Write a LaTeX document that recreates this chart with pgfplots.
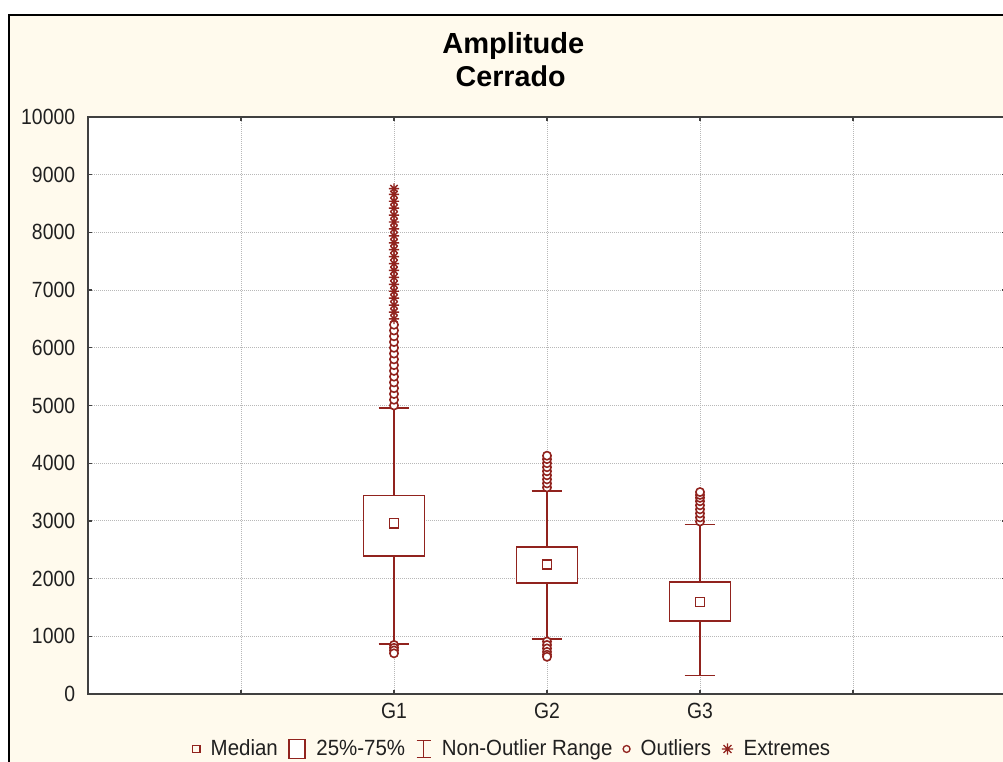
\documentclass[border=0pt]{standalone}
\usepackage{pgfplots}
\pgfplotsset{compat=1.18}
\usepackage{fontspec}
\setmainfont{Liberation Sans}
\newfontfamily\narrowfont{Liberation Sans}[FakeStretch=0.88]
\newfontfamily\legfont{Liberation Sans}[FakeStretch=0.93]
\definecolor{bx}{RGB}{145,35,30}
\definecolor{cream}{RGB}{255,250,237}
\definecolor{axg}{RGB}{64,64,64}
\definecolor{txt}{RGB}{32,32,32}
\pgfdeclareplotmark{ext}{%
 \pgfpathmoveto{\pgfqpoint{-\pgfplotmarksize}{0pt}}\pgfpathlineto{\pgfqpoint{\pgfplotmarksize}{0pt}}%
 \pgfpathmoveto{\pgfqpoint{0pt}{-\pgfplotmarksize}}\pgfpathlineto{\pgfqpoint{0pt}{\pgfplotmarksize}}%
 \pgfpathmoveto{\pgfqpoint{-0.707\pgfplotmarksize}{-0.707\pgfplotmarksize}}\pgfpathlineto{\pgfqpoint{0.707\pgfplotmarksize}{0.707\pgfplotmarksize}}%
 \pgfpathmoveto{\pgfqpoint{-0.707\pgfplotmarksize}{0.707\pgfplotmarksize}}\pgfpathlineto{\pgfqpoint{0.707\pgfplotmarksize}{-0.707\pgfplotmarksize}}%
 \pgfusepathqstroke}
\begin{document}
\begin{tikzpicture}
\useasboundingbox (0pt,0pt) rectangle (752.25pt,-571.5pt);
\fill[white] (0pt,0pt) rectangle (752.25pt,-571.5pt);
\draw[black, line width=1.3pt, fill=cream] (6.75pt,-11.25pt) rectangle (770pt,-590pt);
\begin{axis}[
  at={(66pt,-520.5pt)}, anchor=south west,
  scale only axis, width=688.5pt, height=432.75pt,
  xmin=0, xmax=6, ymin=0, ymax=10000,
  axis background/.style={fill=white},
  axis line style={draw=axg, line width=1pt},
  tick style={draw=axg, line width=1pt},
  major tick length=3pt, tick align=inside,
  xtick={1,2,3,4,5}, xticklabels={{},G1,G2,G3,{}},
  ytick={0,1000,...,10000},
  scaled y ticks=false,
  grid=major,
  major grid style={draw=black!28, line width=0.75pt, dash pattern=on 0.75pt off 0.75pt},
  ticklabel style={font=\narrowfont\fontsize{16.5}{19}\selectfont, text=txt},
  yticklabel style={inner sep=0pt, xshift=-9.5pt},
  xticklabel style={inner sep=0pt, yshift=-7pt},
  /pgf/number format/assume math mode=true,
  /pgf/number format/1000 sep={},
  legend columns=5,
  legend style={draw=none, fill=none, at={(0.467,-0.0953)}, anchor=center,
    font=\legfont\fontsize{16.5}{19}\selectfont, text=txt,
    nodes={inner xsep=8pt, inner ysep=1pt}},
]
% ---- G1 (x=2)
\addplot[forget plot, bx, line width=1.25pt] coordinates {(2,870) (2,2390)};
\addplot[forget plot, bx, line width=1.25pt] coordinates {(2,3440) (2,4960)};
\addplot[forget plot, bx, line width=1.25pt] coordinates {(1.9,870) (2.1,870)};
\addplot[forget plot, bx, line width=1.25pt] coordinates {(1.9,4960) (2.1,4960)};
\addplot[forget plot, bx, line width=1.25pt, fill=white] coordinates {(1.8,2390) (2.2,2390) (2.2,3440) (1.8,3440)} -- cycle;
\addplot[forget plot, only marks, bx, mark=square, mark size=3.4pt, line width=1.2pt] coordinates {(2,2960)};
\addplot[forget plot, only marks, bx, mark=*, mark size=3.1pt, line width=1.2pt, mark options={fill=white}] coordinates {
(2,850) (2,800) (2,755) (2,705)
(2,5000) (2,5100) (2,5200) (2,5300) (2,5400) (2,5500) (2,5600) (2,5700) (2,5800)
(2,5900) (2,6000) (2,6100) (2,6200) (2,6300) (2,6400)};
\addplot[forget plot, only marks, bx, mark=ext, mark size=3.8pt, line width=1.1pt] coordinates {
(2,6500) (2,6620) (2,6740) (2,6860) (2,6980) (2,7100) (2,7220) (2,7340) (2,7460) (2,7580)
(2,7700) (2,7820) (2,7940) (2,8060) (2,8180) (2,8300) (2,8420) (2,8540) (2,8660) (2,8760)};
% ---- G2 (x=3)
\addplot[forget plot, bx, line width=1.25pt] coordinates {(3,950) (3,1920)};
\addplot[forget plot, bx, line width=1.25pt] coordinates {(3,2550) (3,3520)};
\addplot[forget plot, bx, line width=1.25pt] coordinates {(2.9,950) (3.1,950)};
\addplot[forget plot, bx, line width=1.25pt] coordinates {(2.9,3520) (3.1,3520)};
\addplot[forget plot, bx, line width=1.25pt, fill=white] coordinates {(2.8,1920) (3.2,1920) (3.2,2550) (2.8,2550)} -- cycle;
\addplot[forget plot, only marks, bx, mark=square, mark size=3.4pt, line width=1.2pt] coordinates {(3,2240)};
\addplot[forget plot, only marks, bx, mark=*, mark size=3.1pt, line width=1.2pt, mark options={fill=white}] coordinates {
(3,910) (3,850) (3,790) (3,730) (3,680) (3,645)
(3,3580) (3,3650) (3,3720) (3,3790) (3,3860) (3,3930) (3,4000) (3,4070) (3,4130)};
% ---- G3 (x=4)
\addplot[forget plot, bx, line width=1.25pt] coordinates {(4,320) (4,1265)};
\addplot[forget plot, bx, line width=1.25pt] coordinates {(4,1945) (4,2940)};
\addplot[forget plot, bx, line width=1.25pt] coordinates {(3.9,320) (4.1,320)};
\addplot[forget plot, bx, line width=1.25pt] coordinates {(3.9,2940) (4.1,2940)};
\addplot[forget plot, bx, line width=1.25pt, fill=white] coordinates {(3.8,1265) (4.2,1265) (4.2,1945) (3.8,1945)} -- cycle;
\addplot[forget plot, only marks, bx, mark=square, mark size=3.4pt, line width=1.2pt] coordinates {(4,1595)};
\addplot[forget plot, only marks, bx, mark=*, mark size=3.1pt, line width=1.2pt, mark options={fill=white}] coordinates {
(4,2990) (4,3060) (4,3130) (4,3200) (4,3270) (4,3340) (4,3400) (4,3450) (4,3500)};
% ---- legend
\addlegendimage{only marks, mark=square, mark size=2.8pt, bx, line width=1pt}
\addlegendentry{Median}
\addlegendimage{legend image code/.code={\draw[bx, line width=1pt, fill=white] (0pt,-7pt) rectangle (12pt,7pt);}}
\addlegendentry{25\%-75\%}
\addlegendimage{legend image code/.code={\draw[bx, line width=1pt] (0pt,-6.5pt)--(10.5pt,-6.5pt) (5.25pt,-6.5pt)--(5.25pt,6.5pt) (0pt,6.5pt)--(10.5pt,6.5pt);}}
\addlegendentry{Non-Outlier Range}
\addlegendimage{only marks, mark=o, mark size=2.6pt, bx, line width=1pt}
\addlegendentry{Outliers}
\addlegendimage{only marks, mark=ext, mark size=4.2pt, bx, line width=1pt}
\addlegendentry{Extremes}
\end{axis}
\node[anchor=base, font=\fontsize{21.8}{25}\selectfont\bfseries] at (385pt,-40pt) {Amplitude};
\node[anchor=base, font=\fontsize{21.5}{25}\selectfont\bfseries] at (383pt,-65pt) {Cerrado};
\end{tikzpicture}
\end{document}
